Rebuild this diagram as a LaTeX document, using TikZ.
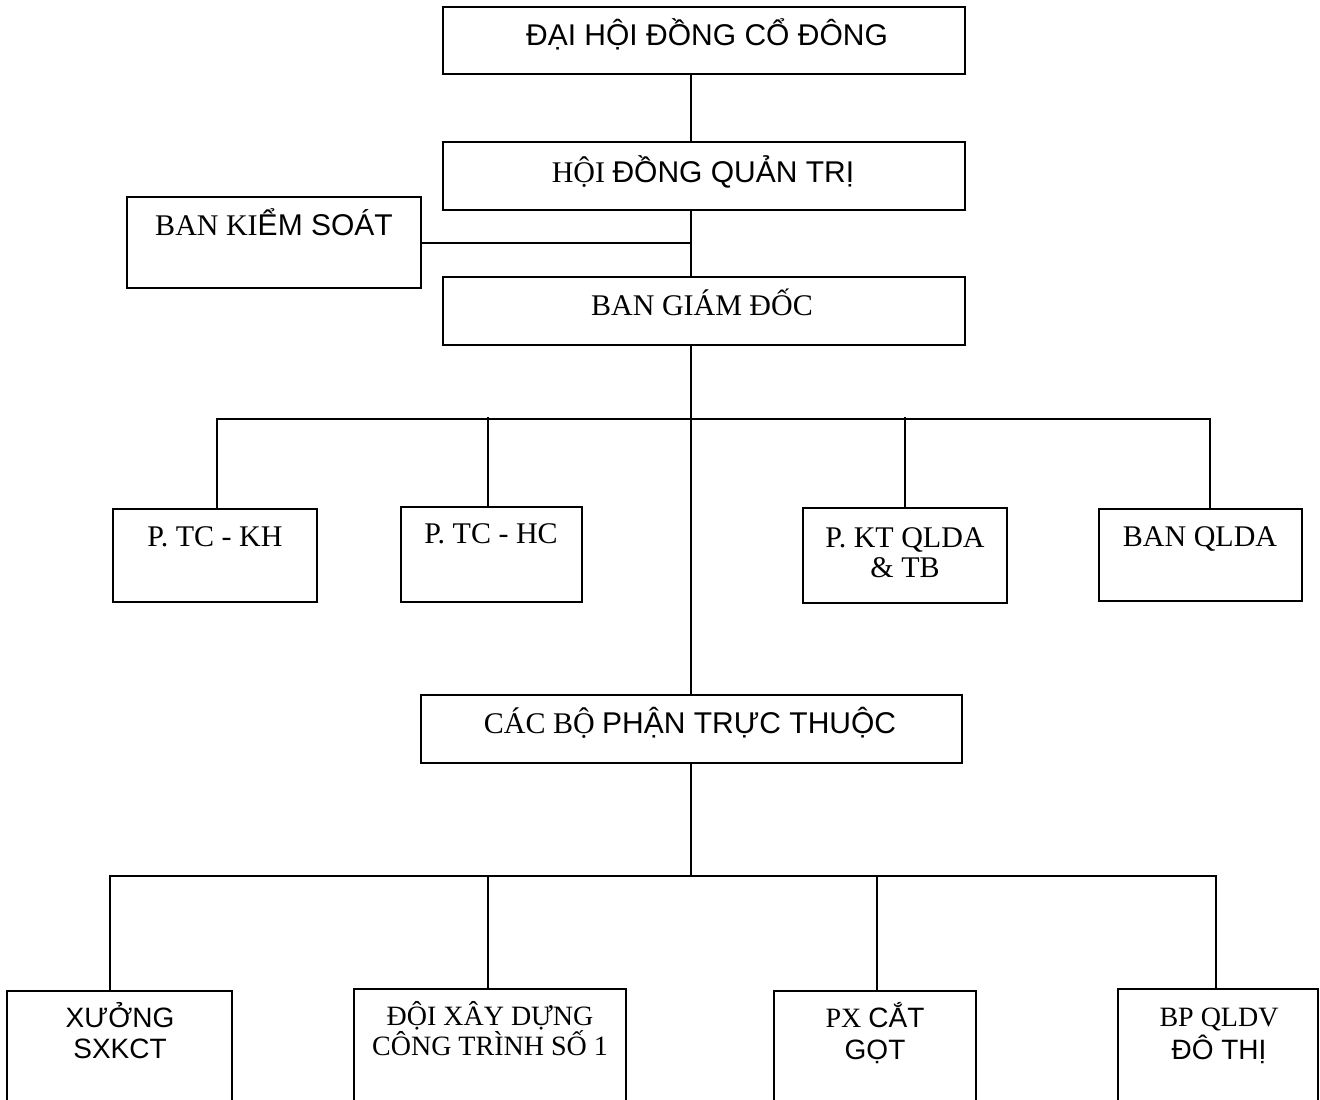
\documentclass[tikz,border=0pt]{standalone}
\usepackage{fontspec}
\setmainfont{Liberation Serif}
\newfontfamily\ar{Liberation Sans}
\usetikzlibrary{calc}
\tikzset{
  obox/.style={draw=black, line width=1pt, fill=white, rectangle, inner sep=0pt, outer sep=0pt},
  link/.style={draw=black, line width=1pt},
  lbl/.style={anchor=base, inner sep=0pt, outer sep=0pt, font=\fontsize{15}{18}\selectfont},
  slbl/.style={anchor=base, inner sep=0pt, outer sep=0pt, font=\fontsize{14}{17}\selectfont}
}
\newcommand\obox[5]{\node[obox, minimum width={(#4-#2)*0.5pt}, minimum height={(#5-#3)*0.5pt}] (#1) at ({(#2+#4)/2},{(#3+#5)/2}) {};}
\begin{document}
\begin{tikzpicture}[x=0.5pt, y=-0.5pt]
\useasboundingbox (0,0) rectangle (1320,1099);
\clip (0,0) rectangle (1320,1099);
% trunk coordinates
\coordinate (trunk) at (691,0);
\coordinate (busA) at (0,419);
\coordinate (busB) at (0,876);
% connectors first (boxes drawn over)
\obox{A}{443}{7}{965}{74}
\obox{B}{443}{142}{965}{210}
\obox{K}{127}{197}{421}{288}
\obox{G}{443}{277}{965}{345}
\obox{P1}{113}{509}{317}{602}
\obox{P2}{401}{507}{582}{602}
\obox{P3}{803}{508}{1007}{603}
\obox{P4}{1099}{509}{1302}{601}
\obox{C}{421}{695}{962}{763}
\obox{B1}{7}{991}{232}{1112}
\obox{B2}{354}{989}{626}{1112}
\obox{B3}{774}{991}{976}{1112}
\obox{B4}{1118}{989}{1318}{1112}
% coordinates for branch drops
\coordinate (d1) at (217,0);
\coordinate (d2) at (488,0);
\coordinate (d3) at (905,0);
\coordinate (d4) at (1210,0);
\coordinate (e1) at (110,0);
\coordinate (e2) at (488,0);
\coordinate (e3) at (877,0);
\coordinate (e4) at (1216,0);
% vertical trunk
\draw[link] (A.south -| trunk) -- (B.north -| trunk);
\draw[link] (B.south -| trunk) -- (G.north -| trunk);
\draw[link] (K.east) -- (K.east -| trunk);
\draw[link] (G.south -| trunk) -- (C.north -| trunk);
\draw[link] (C.south -| trunk) -- (busB -| trunk);
% first bus
\draw[link] (P1.north -| d1) -- (busA -| d1) -- (busA -| d4) -- (P4.north -| d4);
\draw[link] ($(busA -| d2)+(0,-2)$) -- (P2.north -| d2);
\draw[link] ($(busA -| d3)+(0,-2)$) -- (P3.north -| d3);
% second bus
\draw[link] (B1.north -| e1) -- (busB -| e1) -- (busB -| e4) -- (B4.north -| e4);
\draw[link] (busB -| e2) -- (B2.north -| e2);
\draw[link] (busB -| e3) -- (B3.north -| e3);
% labels
\node[lbl] (tA) at (707,45) {\ar ĐẠI HỘI ĐỒNG CỔ ĐÔNG};
\node[lbl] (tB) at (703,182) {HỘI {\ar ĐỒNG QUẢN TRỊ}};
\node[lbl] (tK) at (274,235) {BAN KI{\ar ỂM SOÁT}};
\node[lbl] (tG) at (702,315) {BAN GIÁM ĐỐC};
\node[lbl] (tP1) at (215,546) {P. TC - KH};
\node[lbl] (tP2) at (491,543) {P. TC - HC};
\node[lbl] (tP3a) at (905,547) {P. KT QLDA};
\node[lbl] (tP3b) at (905,577) {\& TB};
\node[lbl] (tP4) at (1200,546) {BAN QLDA};
\node[lbl] (tC) at (690,733) {CÁC BỘ {\ar PHẬN TRỰC THUỘC}};
\node[slbl] (tB1a) at (120,1027) {\ar XƯỞNG};
\node[slbl] (tB1b) at (120,1058) {\ar SXKCT};
\node[slbl] (tB2a) at (490,1025) {ĐỘI XÂY DỰNG};
\node[slbl] (tB2b) at (490,1055) {CÔNG TRÌNH SỐ 1};
\node[slbl] (tB3a) at (875,1027) {PX {\ar CẮT}};
\node[slbl] (tB3b) at (875,1059) {\ar GỌT};
\node[slbl] (tB4a) at (1219,1026) {BP QLDV};
\node[slbl] (tB4b) at (1219,1059) {\ar ĐÔ THỊ};
\end{tikzpicture}
\end{document}
